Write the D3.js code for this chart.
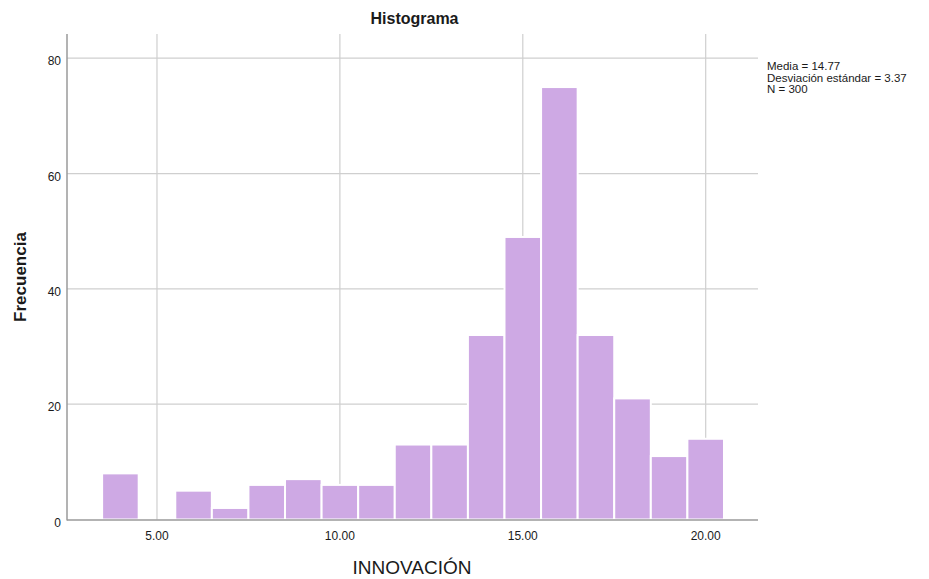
<!DOCTYPE html>
<html>
<head>
<meta charset="utf-8">
<script src="https://cdn.jsdelivr.net/npm/d3@7"></script>
<style>
  body { margin: 0; background: #fff; }
  text { font-family: Arial, "Liberation Sans", sans-serif; fill: #1a1a1a; }
</style>
</head>
<body>
<svg id="chart" width="929" height="579"></svg>
<script>
// bin centres and counts
const binCenters = [4, 5, 6, 7, 8, 9, 10, 11, 12, 13, 14, 15, 16, 17, 18, 19, 20];
const counts = [8, 0, 5, 2, 6, 7, 6, 6, 13, 13, 32, 49, 75, 32, 21, 11, 14];
const xTicks = [5, 10, 15, 20];
const yTicks = [0, 20, 40, 60, 80];
const statLines = ['Media = 14.77', 'Desviación estándar = 3.37', 'N = 300'];

const svg = d3.select('#chart');
const plotL = 67, plotR = 758, plotT = 34, plotB = 519.5;

const x = d3.scaleLinear().domain([2.54, 21.43]).range([plotL, plotR]);
const y = d3.scaleLinear().domain([0, 84.2]).range([plotB, plotT]);

// grid
svg.append('g').selectAll('line')
  .data(yTicks.filter(d => d > 0))
  .enter().append('line')
  .attr('x1', plotL).attr('x2', plotR)
  .attr('y1', d => y(d)).attr('y2', d => y(d))
  .attr('stroke', '#cfcfcf').attr('stroke-width', 1.2);

svg.append('g').selectAll('line')
  .data(xTicks)
  .enter().append('line')
  .attr('x1', d => x(d)).attr('x2', d => x(d))
  .attr('y1', plotT).attr('y2', plotB)
  .attr('stroke', '#cfcfcf').attr('stroke-width', 1.2);

// bars
svg.append('g').selectAll('rect')
  .data(binCenters.map((c, i) => ({ c: c, n: counts[i] })).filter(d => d.n > 0))
  .enter().append('rect')
  .attr('x', d => x(d.c - 0.5))
  .attr('width', d => x(d.c + 0.5) - x(d.c - 0.5))
  .attr('y', d => y(d.n))
  .attr('height', d => y(0) - y(d.n))
  .attr('fill', '#cea9e4')
  .attr('stroke', '#fff')
  .attr('stroke-width', 2);

// axis lines
svg.append('line')
  .attr('x1', plotL).attr('x2', plotL).attr('y1', plotT).attr('y2', plotB + 1)
  .attr('stroke', '#9a9a9a').attr('stroke-width', 1.5);
svg.append('line')
  .attr('x1', plotL).attr('x2', plotR).attr('y1', plotB + 0.5).attr('y2', plotB + 0.5)
  .attr('stroke', '#9a9a9a').attr('stroke-width', 1.5);

// tick labels
svg.append('g').selectAll('text')
  .data(yTicks)
  .enter().append('text')
  .attr('x', plotL - 6)
  .attr('y', d => y(d) + 7)
  .attr('text-anchor', 'end')
  .attr('font-size', 12)
  .text(d => d);

svg.append('g').selectAll('text')
  .data(xTicks)
  .enter().append('text')
  .attr('x', d => x(d))
  .attr('y', 540)
  .attr('text-anchor', 'middle')
  .attr('font-size', 12)
  .text(d => d3.format('.2f')(d));

// titles
svg.append('text')
  .attr('x', (plotL + plotR) / 2 + 2)
  .attr('y', 24)
  .attr('text-anchor', 'middle')
  .attr('font-size', 16)
  .attr('font-weight', 'bold')
  .text('Histograma');

svg.append('text')
  .attr('x', (plotL + plotR) / 2 - 0.5)
  .attr('y', 574)
  .attr('text-anchor', 'middle')
  .attr('font-size', 19)
  .text('INNOVACIÓN');

svg.append('text')
  .attr('transform', 'translate(26,' + 277 + ') rotate(-90)')
  .attr('text-anchor', 'middle')
  .attr('font-size', 17)
  .attr('font-weight', 'bold')
  .text('Frecuencia');

// stats
svg.append('g').selectAll('text')
  .data(statLines)
  .enter().append('text')
  .attr('x', 767)
  .attr('y', (d, i) => 70 + i * 11.5)
  .attr('font-size', 11.5)
  .text(d => d);
</script>
</body>
</html>
